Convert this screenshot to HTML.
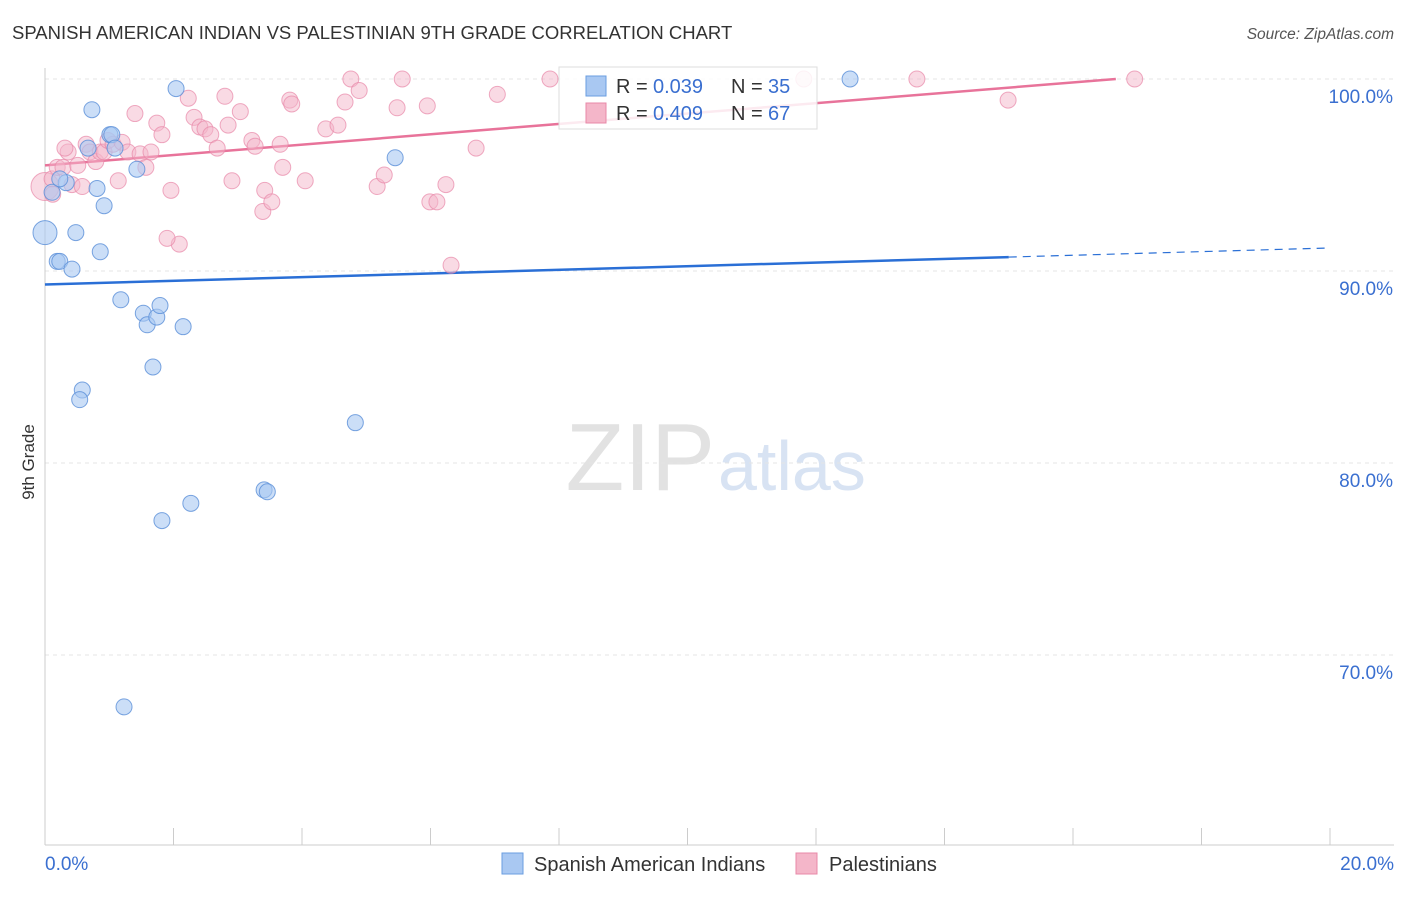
<!DOCTYPE html>
<html><head><meta charset="utf-8"><style>
body{margin:0;background:#fff;font-family:"Liberation Sans",sans-serif;}
svg text{font-family:"Liberation Sans",sans-serif;}
</style></head><body>
<svg id="c" width="1406" height="892">
<text x="12" y="39" font-size="18.5" fill="#333">SPANISH AMERICAN INDIAN VS PALESTINIAN 9TH GRADE CORRELATION CHART</text>
<text x="1394" y="39" font-size="15.5" fill="#555" font-style="italic" text-anchor="end">Source: ZipAtlas.com</text>
<text x="34" y="462" font-size="17" fill="#333" transform="rotate(-90 34 462)" text-anchor="middle">9th Grade</text>
<text x="715" y="490" font-size="96" fill="#e2e2e2" text-anchor="end" font-family="Liberation Serif">ZIP</text>
<text x="718" y="490" font-size="70" fill="#d8e3f3">atlas</text>
<g id="grid"></g><g id="trend"></g><g id="pts"></g>
<g>
<rect x="559" y="67" width="258" height="62" fill="#fff" fill-opacity="0.85" stroke="#ddd"/>
<rect x="586" y="76" width="20" height="20" fill="#a9c8f2" stroke="#6a9ee0"/>
<text y="93" font-size="20" fill="#333"><tspan x="616">R = </tspan><tspan x="653" fill="#3a6fd0">0.039</tspan><tspan x="731">N = </tspan><tspan x="768" fill="#3a6fd0">35</tspan></text>
<rect x="586" y="103" width="20" height="20" fill="#f4b6c9" stroke="#e888a8"/>
<text y="120" font-size="20" fill="#333"><tspan x="616">R = </tspan><tspan x="653" fill="#3a6fd0">0.409</tspan><tspan x="731">N = </tspan><tspan x="768" fill="#3a6fd0">67</tspan></text>
</g>
<g>
<rect x="502" y="853" width="21" height="21" fill="#a9c8f2" stroke="#6a9ee0"/>
<text x="534" y="871" font-size="20" fill="#333">Spanish American Indians</text>
<rect x="796" y="853" width="21" height="21" fill="#f4b6c9" stroke="#e888a8"/>
<text x="829" y="871" font-size="20" fill="#333">Palestinians</text>
</g>
</svg>
<script>
const yTicks=[100,90,80,70];
const xTickLabels=["0.0%","20.0%"];
const blueX=[0,0.11,0.19,0.23,0.33,0.42,0.48,0.67,0.73,0.81,0.86,0.92,1.01,1.04,1.09,1.18,1.23,1.43,1.53,1.59,1.68,1.74,1.79,1.82,2.04,2.15,2.27,3.41,3.46,4.83,5.45,0.58,0.54,12.53,0.23];
const blueY=[92.0,94.1,90.5,90.5,94.6,90.1,92.0,96.4,98.4,94.3,91.0,93.4,97.1,97.1,96.4,88.5,67.3,95.3,87.8,87.2,85.0,87.6,88.2,77.0,99.5,87.1,77.9,78.6,78.5,82.1,95.9,83.8,83.3,100.0,94.8];
const pinkX=[0,0.11,0.19,0.28,0.36,0.42,0.51,0.58,0.64,0.70,0.79,0.86,0.92,0.98,1.06,1.14,1.20,1.29,1.40,1.48,1.57,1.65,1.74,1.82,1.96,2.09,1.90,2.23,2.32,2.41,2.49,2.58,2.68,2.80,2.85,2.91,3.04,3.22,3.27,3.39,3.42,3.53,3.66,3.70,3.81,3.84,4.05,4.37,4.56,4.67,4.76,4.89,5.17,5.28,5.48,5.56,5.95,5.99,6.10,6.24,6.32,6.71,7.04,7.86,11.81,13.57,14.99,16.96,0.31,0.12];
const pinkY=[94.4,94.8,95.4,95.4,96.2,94.5,95.5,94.4,96.6,96.2,95.7,96.2,96.2,96.8,96.6,94.7,96.7,96.2,98.2,96.1,95.4,96.2,97.7,97.1,94.2,91.4,91.7,99.0,98.0,97.5,97.4,97.1,96.4,99.1,97.6,94.7,98.3,96.8,96.5,93.1,94.2,93.6,96.6,95.4,98.9,98.7,94.7,97.4,97.6,98.8,100,99.4,94.4,95.0,98.5,100,98.6,93.6,93.6,94.5,90.3,96.4,99.2,100,100,100,98.9,100,96.4,94.0];
const xs=v=>45+v*64.25, ys=v=>79+(100-v)*19.2;
const NS="http://www.w3.org/2000/svg";
function mk(t,a,p){const e=document.createElementNS(NS,t);for(const k in a)e.setAttribute(k,a[k]);document.getElementById(p).appendChild(e);return e;}
yTicks.forEach(t=>{
 const l=mk('line',{x1:45,x2:1394,y1:ys(t),y2:ys(t),stroke:'#e4e4e4','stroke-dasharray':'4 4'},'grid');
 
 
 const tx=mk('text',{x:1393,y:ys(t)+24,'font-size':19,fill:'#3a6fd0','text-anchor':'end'},'grid');tx.textContent=t.toFixed(1)+'%';
 
 
});
const ax=mk('line',{x1:45,x2:45,y1:68,y2:845,stroke:'#ccc'},'grid');


const bx=mk('line',{x1:45,x2:1394,y1:845,y2:845,stroke:'#ccc'},'grid');


for(let i=0;i<=10;i++){const t=mk('line',{x1:xs(i*2),x2:xs(i*2),y1:828,y2:845,stroke:'#ccc'},'grid');
 
 }
[[0,'start',45],[20,'end',1394]].forEach((d,i)=>{const t=mk('text',{x:d[2],y:870,'font-size':19,fill:'#3a6fd0','text-anchor':d[1]},'grid');t.textContent=xTickLabels[i];
 
 });
const bf=[89.3,0.095];
const bl=mk('line',{x1:xs(0),y1:ys(bf[0]),x2:xs(15),y2:ys(bf[0]+bf[1]*15),stroke:'#2a6fd6','stroke-width':2.5},'trend');


const bd=mk('line',{x1:xs(15),y1:ys(bf[0]+bf[1]*15),x2:xs(20),y2:ys(bf[0]+bf[1]*20),stroke:'#2a6fd6','stroke-width':1.2,'stroke-dasharray':'8 6'},'trend');


const pa=95.5,pb=0.27,pe=Math.min(20,(100-pa)/pb);
const pl=mk('line',{x1:xs(0),y1:ys(pa),x2:xs(pe),y2:ys(pa+pb*pe),stroke:'#e8739a','stroke-width':2.5},'trend');


pinkX.forEach((x,i)=>{const c=mk('circle',{cx:xs(x),cy:ys(pinkY[i]),r:i==0?14:8,fill:'#f4b6c9','fill-opacity':0.5,stroke:'#e888a8','stroke-opacity':0.7},'pts');
 
 });
blueX.forEach((x,i)=>{const c=mk('circle',{cx:xs(x),cy:ys(blueY[i]),r:i==0?12:8,fill:'#a9c8f2','fill-opacity':0.6,stroke:'#5a8fd8','stroke-opacity':0.8},'pts');
 
 });
</script>
</body></html>
